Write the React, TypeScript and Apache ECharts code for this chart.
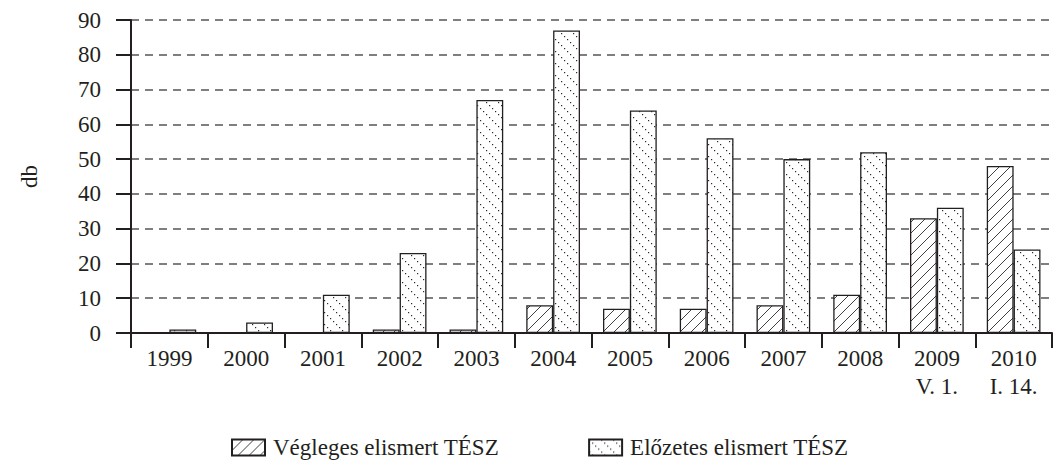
import React, { useEffect, useRef } from "react";
import * as echarts from "echarts";

const categories = ["1999", "2000", "2001", "2002", "2003", "2004", "2005", "2006", "2007", "2008", "2009\nV. 1.", "2010\nI. 14."];
const vegleges = [0, 0, 0, 1, 1, 8, 7, 7, 8, 11, 33, 48];
const elozetes = [1, 3, 11, 23, 67, 87, 64, 56, 50, 52, 36, 24];
const yTicks = { min: 0, max: 90, interval: 10 };
const seriesNames = ["Végleges elismert TÉSZ", "Előzetes elismert TÉSZ"];

function slashPattern(): HTMLCanvasElement {
  const c = document.createElement("canvas");
  const s = 11;
  c.width = s;
  c.height = s;
  const ctx = c.getContext("2d")!;
  ctx.fillStyle = "#ffffff";
  ctx.fillRect(0, 0, s, s);
  ctx.strokeStyle = "#2a2a2a";
  ctx.lineWidth = 0.9;
  ctx.beginPath();
  ctx.moveTo(-1, s + 1);
  ctx.lineTo(s + 1, -1);
  ctx.moveTo(-1, 1);
  ctx.lineTo(1, -1);
  ctx.moveTo(s - 1, s + 1);
  ctx.lineTo(s + 1, s - 1);
  ctx.stroke();
  return c;
}

function dotPattern(): HTMLCanvasElement {
  const c = document.createElement("canvas");
  const s = 12;
  c.width = s;
  c.height = s;
  const ctx = c.getContext("2d")!;
  ctx.fillStyle = "#ffffff";
  ctx.fillRect(0, 0, s, s);
  ctx.fillStyle = "#2a2a2a";
  for (let i = 0; i < 4; i++) {
    ctx.fillRect(i * 3, i * 3, 1.2, 1.2);
  }
  return c;
}

export default function App() {
  const ref = useRef<HTMLDivElement>(null);
  useEffect(() => {
    if (!ref.current) return;
    const chart = echarts.init(ref.current, undefined, { renderer: "svg" });
    const font = "'Liberation Serif', 'Times New Roman', serif";
    const textColor = "#231f20";
    chart.setOption({
      animation: false,
      textStyle: { fontFamily: font, color: textColor },
      grid: { left: 131, right: 1, top: 20, bottom: 139, containLabel: false },
      legend: {
        bottom: 8,
        left: 226,
        icon: "rect",
        itemWidth: 33,
        itemHeight: 16,
        itemGap: 89,
        textStyle: { fontFamily: font, fontSize: 23, color: textColor, padding: [0, 0, 0, 3] },
        data: seriesNames,
      },
      xAxis: {
        type: "category",
        data: categories,
        axisLine: { lineStyle: { color: textColor, width: 2 } },
        axisTick: { show: true, length: 15, lineStyle: { color: textColor, width: 2 } },
        axisLabel: { fontFamily: font, fontSize: 23, color: textColor, margin: 11, lineHeight: 28, interval: 0 },
      },
      yAxis: {
        type: "value",
        min: yTicks.min,
        max: yTicks.max,
        interval: yTicks.interval,
        name: "db",
        nameLocation: "middle",
        nameGap: 90,
        nameRotate: 90,
        nameTextStyle: { fontFamily: font, fontSize: 23, color: textColor },
        axisLine: { show: true, lineStyle: { color: textColor, width: 2 } },
        axisTick: { show: true, length: 15, lineStyle: { color: textColor, width: 2 } },
        axisLabel: { fontFamily: font, fontSize: 23, color: textColor, margin: 30 },
        splitLine: { show: true, lineStyle: { color: "#555555", width: 1.5, type: [8, 6] } },
      },
      series: [
        {
          name: seriesNames[0],
          type: "bar",
          data: vegleges,
          barGap: "0%",
          barCategoryGap: "30%",
          itemStyle: {
            color: { image: slashPattern(), repeat: "repeat" },
            borderColor: textColor,
            borderWidth: 1.3,
          },
        },
        {
          name: seriesNames[1],
          type: "bar",
          data: elozetes,
          barGap: "0%",
          barCategoryGap: "30%",
          itemStyle: {
            color: { image: dotPattern(), repeat: "repeat" },
            borderColor: textColor,
            borderWidth: 1.3,
          },
        },
      ],
    });
    return () => chart.dispose();
  }, []);
  return <div ref={ref} style={{ width: 1053, height: 472, position: "absolute", left: 0, top: 0 }} />;
}
